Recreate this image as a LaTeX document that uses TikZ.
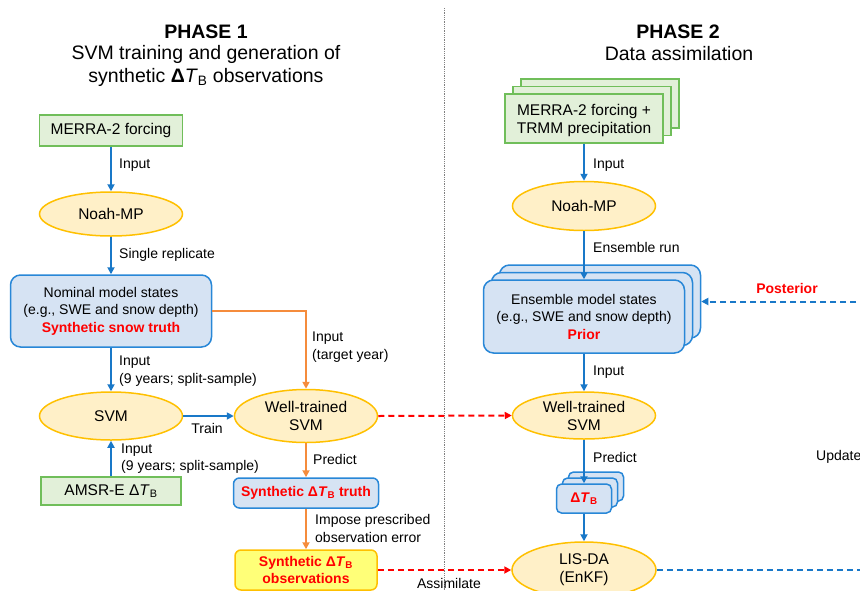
\documentclass[tikz,border=0pt]{standalone}
\usepackage{fontspec}
\setmainfont{Liberation Sans}
\usetikzlibrary{shapes.geometric,arrows.meta}
\definecolor{gfill}{RGB}{226,240,217}
\definecolor{gborder}{RGB}{112,190,90}
\definecolor{yfill}{RGB}{255,240,200}
\definecolor{yborder}{RGB}{255,192,0}
\definecolor{bfill}{RGB}{214,227,243}
\definecolor{bborder}{RGB}{40,135,215}
\definecolor{barrow}{RGB}{25,120,200}
\definecolor{orng}{RGB}{245,140,60}
\definecolor{obsfill}{RGB}{255,255,120}
\newcommand\myBig{\fontsize{15.5}{18}\selectfont}
\newcommand\myMid{\fontsize{14}{17.5}\selectfont}
\newcommand\myTitle{\fontsize{19.5}{23}\selectfont}
\newcommand\dTB{Δ\textit{T}\textsubscript{B}}
\begin{document}
\begin{tikzpicture}[x=1pt,y=-1pt,
  greenbox/.style={draw=gborder, fill=gfill, line width=1.5pt, inner sep=0pt, align=center, font=\myBig},
  yell/.style={ellipse, draw=yborder, fill=yfill, line width=1.5pt, minimum width=143pt, inner sep=0pt, align=center, font=\myBig},
  bluebox/.style={draw=bborder, fill=bfill, line width=1.5pt, rounded corners=10pt, inner sep=0pt, align=center, font=\myMid},
  lbl/.style={anchor=west, inner sep=0pt, align=left, font=\myMid},
  tip/.style={-{Triangle[length=7pt,width=7pt]}},
  barr/.style={draw=barrow, line width=2pt, tip},
  oarr/.style={draw=orng, line width=2pt, tip},
  rdash/.style={draw=red, line width=2pt, dash pattern=on 6pt off 4pt, tip},
  bdash/.style={draw=barrow, line width=2pt, dash pattern=on 6pt off 4pt},
  ttl/.style={inner sep=0pt, font=\myTitle}
]
\useasboundingbox (0,0) rectangle (860,590);
\clip (0,0) rectangle (860,590);

% divider
\coordinate (dtop) at (444,8);
\coordinate (dbot) at (444,592);
\draw[gray, line width=0.8pt, densely dotted] (dtop) -- (dbot);

% titles
\node[ttl, font=\myTitle\bfseries] (p1) at (206,32) {PHASE 1};
\node[ttl] (p1a) at (206,54) {SVM training and generation of};
\node[ttl] (p1b) at (206,77) {synthetic {\bfseries Δ}\textit{T}\textsubscript{B} observations};
\node[ttl, font=\myTitle\bfseries] (p2) at (678,32) {PHASE 2};
\node[ttl] (p2a) at (679,54) {Data assimilation};

% ---------- Phase 1 ----------
\node[greenbox, minimum width=143pt, minimum height=31pt] (m1) at (111,130.5) {MERRA-2 forcing};
\node[yell, minimum height=44pt] (noah1) at (111,214) {Noah-MP};
\node[bluebox, minimum width=201pt, minimum height=72pt] (nom) at (111,311)
  {Nominal model states\\(e.g., SWE and snow depth)\\\textcolor{red}{\bfseries Synthetic snow truth}};
\node[yell, minimum height=48pt] (svm) at (111,416) {SVM};
\node[greenbox, minimum width=140pt, minimum height=28pt] (amsr) at (111,491) {AMSR-E \dTB};
\node[yell, minimum height=53pt] (wt1) at (306,416) {Well-trained\\SVM};
\node[bluebox, rounded corners=6pt, minimum width=145pt, minimum height=30pt, font=\myMid\bfseries, text=red] (truth) at (306,493) {Synthetic \dTB\ truth};
\node[draw=yborder, fill=obsfill, line width=1.5pt, rounded corners=6pt, minimum width=142pt, minimum height=40pt, inner sep=0pt, align=center, font=\myMid\bfseries, text=red] (obs) at (306,570) {Synthetic \dTB\\observations};

\draw[barr] (m1.south) -- (noah1.north);
\draw[barr] (noah1.south) -- (nom.north);
\draw[barr] (nom.south) -- (svm.north);
\draw[barr] (amsr.north) -- (svm.south);
\draw[barr] (svm.east) -- (wt1.west);
\draw[oarr] (nom.east) -| (wt1.north);
\draw[oarr] (wt1.south) -- (truth.north);
\draw[oarr] (truth.south) -- (obs.north);

\node[lbl] (l1) at (119,165) {Input};
\node[lbl] (l2) at (119,255) {Single replicate};
\node[lbl] (l3) at (119,371) {Input\\(9 years; split-sample)};
\node[lbl] (l4) at (312,347) {Input\\(target year)};
\node[inner sep=0pt, font=\myMid] (l5) at (207,428) {Train};
\node[lbl] (l6) at (121,458.5) {Input\\(9 years; split-sample)};
\node[lbl] (l7) at (313,459) {Predict};
\node[lbl] (l8) at (315,528.5) {Impose prescribed\\observation error};

% ---------- Phase 2 ----------
\node[greenbox, minimum width=158pt, minimum height=49pt] (m2c) at (600,103.5) {};
\node[greenbox, minimum width=158pt, minimum height=49pt] (m2b) at (592,111) {};
\node[greenbox, minimum width=158pt, minimum height=49pt, font=\myBig, text depth=0pt] (m2) at (584,118.5) {MERRA-2 forcing +\\TRMM precipitation};
\node[yell, minimum height=49pt] (noah2) at (584,206) {Noah-MP};
\node[bluebox, minimum width=201pt, minimum height=73pt] (ensc) at (600,301.5) {};
\node[bluebox, minimum width=201pt, minimum height=73pt] (ensb) at (592,309) {};
\node[bluebox, minimum width=201pt, minimum height=73pt] (ens) at (584,316.5)
  {Ensemble model states\\(e.g., SWE and snow depth)\\\textcolor{red}{\bfseries Prior}};
\node[yell, minimum height=47pt] (wt2) at (584,415.5) {Well-trained\\SVM};
\node[bluebox, rounded corners=5pt, minimum width=55pt, minimum height=29pt] (dtbc) at (596,486.5) {};
\node[bluebox, rounded corners=5pt, minimum width=55pt, minimum height=29pt] (dtbb) at (590,492.5) {};
\node[bluebox, rounded corners=5pt, minimum width=55pt, minimum height=29pt, font=\myMid\bfseries, text=red] (dtb) at (584,498.5) {\dTB};
\node[yell, minimum width=144pt, minimum height=56pt] (lis) at (584,570) {LIS-DA\\(EnKF)};

\draw[barr] (m2.south) -- (noah2.north);
\draw[barr] (noah2.south) -- (ens.north);
\draw[barr] (ens.south) -- (wt2.north);
\draw[barr] (wt2.south) -- (dtb.north);
\draw[barr] (dtb.south) -- (lis.north);

\node[lbl] (r1) at (593,165) {Input};
\node[lbl] (r2) at (593,247) {Ensemble run};
\node[lbl] (r3) at (593,372) {Input};
\node[lbl] (r4) at (593,457) {Predict};

% cross connections
\draw[rdash] (wt1.east) -- (wt2.west);
\draw[rdash] (obs.east) -- (lis.west);
\node[inner sep=0pt, font=\myMid] (l9) at (449,583) {Assimilate};

\coordinate (postR) at (866,301.5);
\coordinate (updR) at (866,570);
\draw[bdash, tip] (postR) -- (ensc.east);
\draw[bdash] (lis.east) -- (updR);
\node[inner sep=0pt, font=\myMid\bfseries, text=red] (post) at (787,288) {Posterior};
\node[lbl] (upd) at (816,457) {Update};
\end{tikzpicture}
\end{document}
